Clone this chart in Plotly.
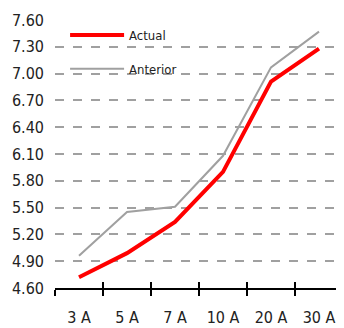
import plotly.graph_objects as go

categories = ["3 A", "5 A", "7 A", "10 A", "20 A", "30 A"]
actual = [4.72, 4.99, 5.34, 5.90, 6.91, 7.28]
anterior = [4.96, 5.45, 5.51, 6.08, 7.07, 7.47]
y_ticks = [4.60, 4.90, 5.20, 5.50, 5.80, 6.10, 6.40, 6.70, 7.00, 7.30, 7.60]

FONT = "DejaVu Sans Condensed, Liberation Sans Narrow, sans-serif"

fig = go.Figure()

fig.add_trace(go.Scatter(
    x=categories, y=actual, mode="lines", name="Actual",
    legendgroup="a", line=dict(color="#ff0000", width=4)
))
fig.add_trace(go.Scatter(
    x=categories, y=anterior, mode="lines", name="Anterior",
    legendgroup="b", line=dict(color="#a0a0a0", width=2)
))
# invisible trace to carry the inner half of the category ticks
fig.add_trace(go.Scatter(
    x=categories, y=actual, mode="lines", xaxis="x2", showlegend=False,
    line=dict(width=0), hoverinfo="skip"
))

fig.update_layout(
    width=336, height=320,
    margin=dict(l=47, r=1, t=12, b=40),
    paper_bgcolor="white", plot_bgcolor="white",
    font=dict(family=FONT, size=16, color="#222222"),
    showlegend=True,
    legend=dict(
        x=0.035, y=1.0, xanchor="left", yanchor="top",
        bgcolor="rgba(0,0,0,0)", tracegroupgap=14,
        font=dict(size=13), itemwidth=54
    ),
    xaxis=dict(
        type="category", range=[-0.5, 5.5], automargin=False,
        showgrid=False, showline=True, linecolor="black", linewidth=2,
        ticks="outside", tickson="boundaries", ticklen=6, tickwidth=2, tickcolor="black",
        zeroline=False, ticklabelstandoff=14
    ),
    xaxis2=dict(
        type="category", range=[-0.5, 5.5], overlaying="x", side="bottom",
        showgrid=False, showline=False, showticklabels=False, automargin=False,
        ticks="inside", tickson="boundaries", ticklen=6, tickwidth=2, tickcolor="black"
    ),
    yaxis=dict(
        range=[4.6, 7.6], tickvals=y_ticks, tickformat=".2f", automargin=False,
        showgrid=True, gridcolor="#a0a0a0", griddash="dash", gridwidth=2,
        showline=False, zeroline=False, ticks="", ticklabelstandoff=10
    ),
)

fig.write_html("out.html")
